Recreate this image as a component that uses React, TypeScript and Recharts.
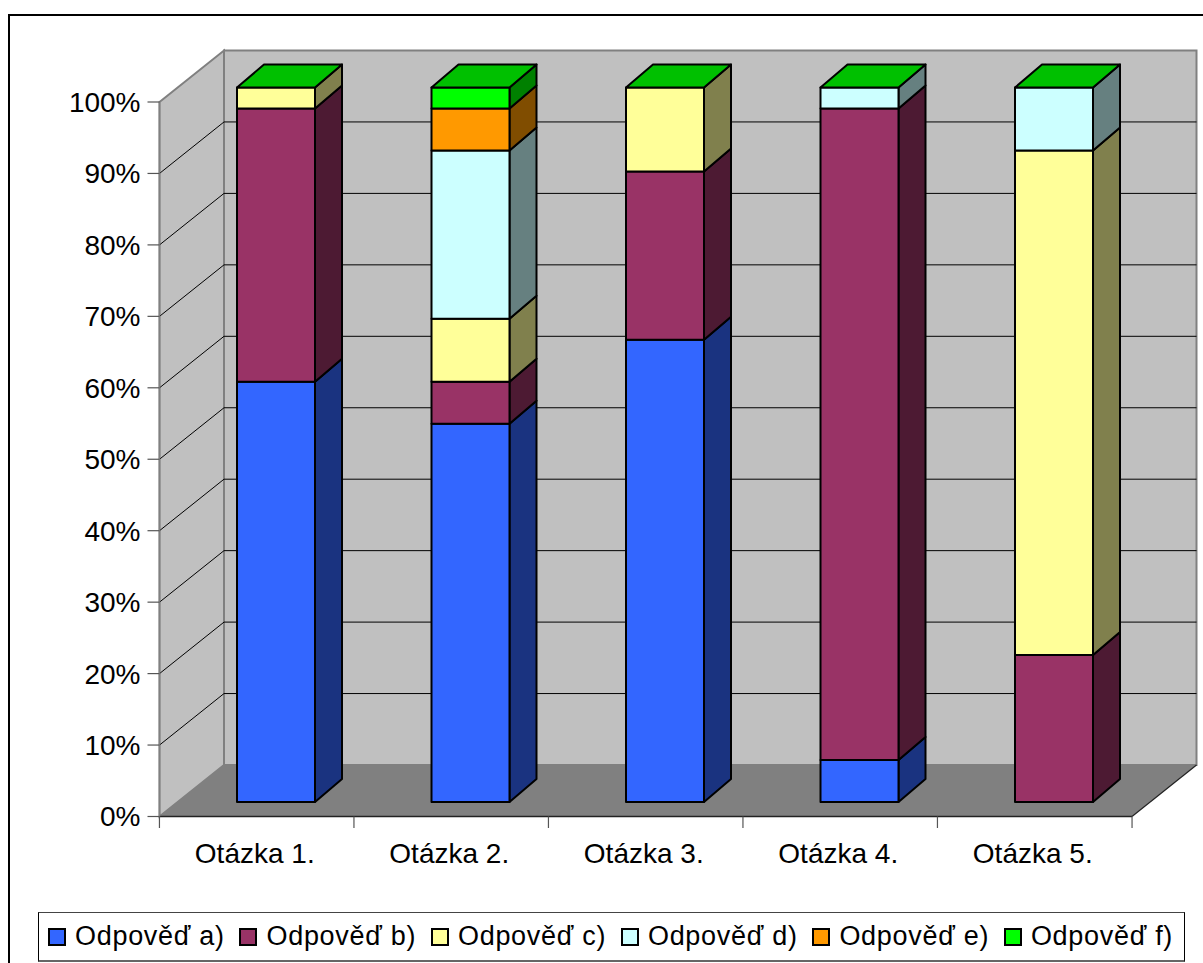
import React from "react"
import { BarChart, Bar, XAxis, YAxis, CartesianGrid, ReferenceArea, Legend } from "recharts"

// answer counts per question, the axis shows them as share of all answers
const questions = ["Otázka 1.", "Otázka 2.", "Otázka 3.", "Otázka 4.", "Otázka 5."]
const answerA = [20, 18, 22, 2, 0]
const answerB = [13, 2, 8, 31, 7]
const answerC = [1, 3, 4, 0, 24]
const answerD = [0, 8, 0, 1, 3]
const answerE = [0, 2, 0, 0, 0]
const answerF = [0, 1, 0, 0, 0]
const percentTicks = [0, 0.1, 0.2, 0.3, 0.4, 0.5, 0.6, 0.7, 0.8, 0.9, 1]

const chartData = questions.map((name, i) => ({
  name,
  a: answerA[i],
  b: answerB[i],
  c: answerC[i],
  d: answerD[i],
  e: answerE[i],
  f: answerF[i],
}))

const SERIES = [
  { key: "a", name: "Odpověď a)", fill: "#3366ff", side: "#1a3380" },
  { key: "b", name: "Odpověď b)", fill: "#993366", side: "#4d1a33" },
  { key: "c", name: "Odpověď c)", fill: "#ffff99", side: "#80804d" },
  { key: "d", name: "Odpověď d)", fill: "#ccffff", side: "#668080" },
  { key: "e", name: "Odpověď e)", fill: "#ff9900", side: "#804d00" },
  { key: "f", name: "Odpověď f)", fill: "#00ff00", side: "#008000" },
]

const FONT = "'Liberation Sans', Arial, sans-serif"
const WALL_DX = 64.5
const WALL_DY = -51.5
const BAR_DX = 19.5
const BAR_DY = -14.5
const DEPTH_DX = 27
const DEPTH_DY = -23
const LINE = 2

const pts = (...p: number[][]) => p.map((q) => q.join(",")).join(" ")

// back wall, side wall and floor of the 3D box
function Walls({ x, y, width, height }: any) {
  const r = x + width
  const b = y + height
  const dx = WALL_DX
  const dy = WALL_DY
  return (
    <g>
      <polygon points={pts([x + dx, y + dy], [r + dx, y + dy], [r + dx, b + dy], [x + dx, b + dy])} fill="#c0c0c0" stroke="#808080" strokeWidth={2} />
      <polygon points={pts([x, y], [x + dx, y + dy], [x + dx, b + dy], [x, b])} fill="#c0c0c0" stroke="#808080" strokeWidth={2} />
      <polygon points={pts([x, b], [x + dx, b + dy], [r + dx, b + dy], [r, b])} fill="#808080" />
      <line x1={r} y1={b} x2={r + dx} y2={b + dy} stroke="#222" strokeWidth={1.2} />
    </g>
  )
}

// gridline runs along the side wall and then across the back wall,
// the two outer ticks coincide with the box edges
function GridLine({ x1, x2, y1, y2 }: any) {
  if (Math.abs(y1 - 816.5) < 1 || Math.abs(y1 - 102) < 1) return <g />
  return (
    <g>
      <line x1={x1} y1={y1} x2={x1 + WALL_DX} y2={y2 + WALL_DY} stroke="#000" strokeWidth={1} />
      <line x1={x1 + WALL_DX} y1={y1 + WALL_DY} x2={x2 + WALL_DX} y2={y2 + WALL_DY} stroke="#000" strokeWidth={1} />
    </g>
  )
}

function makeBlock(side: string, withTop: boolean) {
  return function Block({ x, y, width, height, fill }: any) {
    const fx = x + BAR_DX
    const fy = y + BAR_DY
    const h = height
    return (
      <g stroke="#000" strokeWidth={LINE} strokeLinejoin="round">
        {h > 0 && (
          <>
            <polygon
              points={pts([fx + width, fy], [fx + width + DEPTH_DX, fy + DEPTH_DY], [fx + width + DEPTH_DX, fy + h + DEPTH_DY], [fx + width, fy + h])}
              fill={side}
            />
            <rect x={fx} y={fy} width={width} height={h} fill={fill} />
          </>
        )}
        {withTop && (
          <polygon
            points={pts([fx, fy], [fx + DEPTH_DX, fy + DEPTH_DY], [fx + width + DEPTH_DX, fy + DEPTH_DY], [fx + width, fy])}
            fill="#00c000"
          />
        )}
      </g>
    )
  }
}

// axis label plus the tick marks on the category boundaries
function QuestionTick({ x, payload, index }: any) {
  const band = 973 / questions.length
  return (
    <g>
      <line x1={x - band / 2} y1={816.5} x2={x - band / 2} y2={828} stroke="#555" strokeWidth={1.2} />
      {index === questions.length - 1 && (
        <line x1={x + band / 2} y1={816.5} x2={x + band / 2} y2={828} stroke="#555" strokeWidth={1.2} />
      )}
      <text x={x - 2} y={863} textAnchor="middle" fontSize={28} fontFamily={FONT} fill="#000">
        {payload.value}
      </text>
    </g>
  )
}

function LegendBox({ payload }: any) {
  return (
    <div
      style={{
        boxSizing: "border-box",
        width: 1147,
        height: 50,
        border: "1px solid #000",
        borderTopColor: "#444",
        borderBottom: "2px solid #666",
        background: "#fff",
        display: "flex",
        alignItems: "center",
        gap: 14.8,
        paddingLeft: 9,
        fontFamily: FONT,
        fontSize: 27,
        letterSpacing: 0.7,
        whiteSpace: "nowrap",
      }}
    >
      {(payload || []).map((item: any) => (
        <span key={item.value} style={{ display: "flex", alignItems: "center" }}>
          <span style={{ boxSizing: "border-box", width: 18, height: 18, border: "2px solid #000", background: item.color, marginRight: 9, flex: "none" }} />
          {item.value}
        </span>
      ))}
    </div>
  )
}

export default function App() {
  return (
    <div style={{ position: "absolute", left: 0, top: 0, width: 1203, height: 963, overflow: "hidden", background: "#fff" }}>
      <div style={{ position: "absolute", left: 8, top: 14, width: 1300, height: 1100, borderLeft: "2px solid #000", borderTop: "2px solid #000" }} />
      <BarChart
        width={1203}
        height={963}
        data={chartData}
        stackOffset="expand"
        barSize={78}
        margin={{ top: 102, right: 71, bottom: 86.5, left: 0 }}
      >
        <ReferenceArea y1={0} y2={1} shape={Walls} ifOverflow="visible" zIndex={-200} />
        <CartesianGrid vertical={false} horizontal={GridLine as any} syncWithTicks />
        <XAxis
          dataKey="name"
          height={60}
          interval={0}
          tickLine={false}
          axisLine={{ stroke: "#222", strokeWidth: 1.4 }}
          tick={QuestionTick}
        />
        <YAxis
          width={159.5}
          domain={[0, 1]}
          ticks={percentTicks}
          tickFormatter={(v: number) => `${Math.round(v * 100)}%`}
          tickSize={12}
          tickMargin={7}
          interval={0}
          axisLine={{ stroke: "#808080", strokeWidth: 1.5 }}
          tickLine={{ stroke: "#555", strokeWidth: 1.2 }}
          tick={{ fontSize: 28, fontFamily: FONT, fill: "#000" }}
        />
        <Legend
          verticalAlign="middle"
          layout="horizontal"
          content={LegendBox}
          wrapperStyle={{ position: "absolute", left: 38, top: 912, width: 1147, height: 50, bottom: "auto", margin: 0 }}
        />
        {SERIES.map((s) => (
          <Bar
            key={s.key}
            dataKey={s.key}
            name={s.name}
            stackId="answers"
            fill={s.fill}
            isAnimationActive={false}
            shape={makeBlock(s.side, s.key === "f")}
          />
        ))}
      </BarChart>
    </div>
  )
}
